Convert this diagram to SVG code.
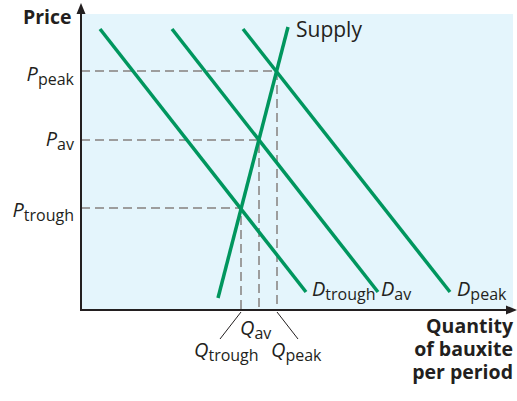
<svg xmlns="http://www.w3.org/2000/svg" width="517" height="401" viewBox="0 0 517 401">
<style>
  text { font-family: "Open Sans", "Noto Sans", "Liberation Sans", sans-serif; fill: #231f20; }
  .lbl { font-size: 20px; }
  .it { font-style: italic; }
  .sub { font-size: 16px; }
  .bold { font-weight: bold; font-size: 19.5px; }
  .curve { stroke: #00965e; stroke-width: 3.5; fill: none; stroke-linecap: butt; }
  .dash { stroke: #9d9d9d; stroke-width: 2; stroke-dasharray: 9 5; fill: none; }
  .axis { stroke: #231f20; stroke-width: 2; fill: none; }
  .leader { stroke: #231f20; stroke-width: 1; }
</style>
<rect x="81" y="14" width="432" height="296" fill="#e4f5fc"/>
<g id="guides">
  <path class="dash" d="M81 71 H277 V310"/>
  <path class="dash" d="M81 140 H259 V310"/>
  <path class="dash" d="M81 208 H241 V310"/>
</g>
<g id="connectors">
  <line id="d-trough" class="curve" x1="100" y1="29" x2="306" y2="292"/>
  <line id="d-av" class="curve" x1="172" y1="29" x2="378" y2="292"/>
  <line id="d-peak" class="curve" x1="243" y1="29" x2="450" y2="292"/>
  <line id="supply" class="curve" x1="218" y1="298" x2="288" y2="27"/>
  <line class="leader" x1="241" y1="312" x2="220" y2="339"/>
  <line class="leader" x1="277" y1="312" x2="298" y2="339"/>
</g>
<g id="axes">
  <line class="axis" x1="81" y1="310" x2="81" y2="12"/>
  <polygon points="81,3 76.5,14 85.5,14" fill="#231f20"/>
  <line class="axis" x1="80" y1="310" x2="508" y2="310"/>
  <polygon points="517,310 506,305.5 506,314.5" fill="#231f20"/>
</g>
<g id="price-label"><text class="bold" x="23" y="24">Price</text></g>
<g id="quantity-label">
  <text class="bold" text-anchor="end"><tspan x="513" y="333">Quantity</tspan><tspan x="513" y="356">of bauxite</tspan><tspan x="513" y="379">per period</tspan></text>
</g>
<g id="supply-label"><text class="lbl" x="296" y="37" style="font-size:21px">Supply</text></g>
<g id="p-labels">
  <text class="lbl" x="74" y="81" text-anchor="end"><tspan class="it">P</tspan><tspan class="sub" dy="4">peak</tspan></text>
  <text class="lbl" x="74" y="146" text-anchor="end"><tspan class="it">P</tspan><tspan class="sub" dy="4">av</tspan></text>
  <text class="lbl" x="74" y="217" text-anchor="end"><tspan class="it">P</tspan><tspan class="sub" dy="4">trough</tspan></text>
</g>
<g id="d-labels">
  <text class="lbl" x="312" y="296"><tspan class="it">D</tspan><tspan class="sub" dy="4">trough</tspan></text>
  <text class="lbl" x="381" y="296"><tspan class="it">D</tspan><tspan class="sub" dy="4">av</tspan></text>
  <text class="lbl" x="457" y="296"><tspan class="it">D</tspan><tspan class="sub" dy="4">peak</tspan></text>
</g>
<g id="q-labels">
  <text class="lbl" x="240" y="335"><tspan class="it">Q</tspan><tspan class="sub" dy="4">av</tspan></text>
  <text class="lbl" x="194" y="357"><tspan class="it">Q</tspan><tspan class="sub" dy="4">trough</tspan></text>
  <text class="lbl" x="271" y="357"><tspan class="it">Q</tspan><tspan class="sub" dy="4">peak</tspan></text>
</g>
</svg>
